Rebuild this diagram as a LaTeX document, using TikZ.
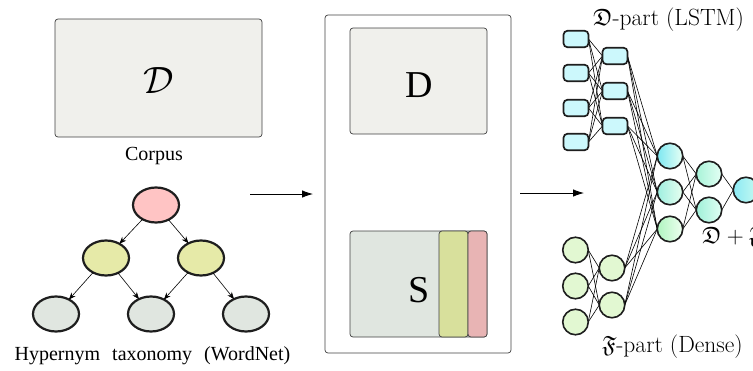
\RequirePackage{fix-cm}
\documentclass[tikz,border=0pt]{standalone}
\usepackage{fontspec}
\usepackage{amssymb}
\newfontfamily\timesfont{Liberation Serif}
\usetikzlibrary{arrows.meta,backgrounds,shapes.geometric}

% palette
\definecolor{boxgray}{HTML}{F0F0EC}
\definecolor{sgray}{HTML}{E0E6E0}
\definecolor{syellow}{HTML}{D8E09C}
\definecolor{spink}{HTML}{E8B4B4}
\definecolor{rootpink}{HTML}{FFC4C4}
\definecolor{midyellow}{HTML}{E6EAA8}
\definecolor{leafgray}{HTML}{E0E6E0}
\definecolor{cellcyan}{HTML}{CCF8FC}
\definecolor{leafgreen}{HTML}{E2F8D2}
\definecolor{edgeblack}{HTML}{1E1E1E}
% neuron gradients (left / right)
\definecolor{mAl}{HTML}{7DE8F2}\definecolor{mAr}{HTML}{E8FFF4}
\definecolor{mBl}{HTML}{9EEFE0}\definecolor{mBr}{HTML}{E8FFF0}
\definecolor{mCl}{HTML}{B0F5C0}\definecolor{mCr}{HTML}{EEFFF0}
\definecolor{nAl}{HTML}{A8F3D8}\definecolor{nAr}{HTML}{E4FFF4}
\definecolor{nBl}{HTML}{A0F0D8}\definecolor{nBr}{HTML}{E0FFF4}
\definecolor{oAl}{HTML}{8CEAF4}\definecolor{oAr}{HTML}{C8FAF0}

\tikzset{
  every node/.style={inner sep=0pt, outer sep=0pt},
  panel/.style={draw=black!75, line width=0.7pt, rounded corners=3pt},
  tnode/.style={ellipse, draw=edgeblack, line width=2.2pt,
                minimum width=46pt, minimum height=35pt},
  tedge/.style={-{Stealth[length=7pt,width=5.5pt]}, line width=0.6pt},
  lstmcell/.style={rectangle, rounded corners=4pt, draw=edgeblack,
                   line width=1.7pt, fill=cellcyan,
                   minimum width=25pt, minimum height=16.5pt},
  neuron/.style={circle, draw=edgeblack, line width=1.6pt, minimum size=25.5pt},
  link/.style={line width=0.6pt},
  flow/.style={-{Latex[length=11pt,width=7.5pt]}, line width=0.8pt},
  serifbig/.style={font=\timesfont\fontsize{38}{40}\selectfont},
  seriflabel/.style={font=\timesfont\fontsize{20}{24}\selectfont},
  mathlabel/.style={font=\fontsize{23.5}{26}\selectfont},
}

\begin{document}
\begin{tikzpicture}[x=1pt, y=-1pt]
\useasboundingbox (0,0) rectangle (753,370);

% ---- corpus ----
\node[panel, fill=boxgray, minimum width=207pt, minimum height=118pt] (corpus) at (158.5,78) {};
\node[font=\fontsize{38}{40}\selectfont] (calD) at (159,81) {$\mathcal{D}$};
\node[seriflabel, anchor=base] (corpuslbl) at (154,160) {Corpus};

% ---- hypernym taxonomy ----
\node[tnode, fill=rootpink]  (root) at (156,205) {};
\node[tnode, fill=midyellow] (ml)   at (106,258) {};
\node[tnode, fill=midyellow] (mr)   at (201,258) {};
\node[tnode, fill=leafgray]  (l1)   at (56,314)  {};
\node[tnode, fill=leafgray]  (l2)   at (151,314) {};
\node[tnode, fill=leafgray]  (l3)   at (246,314) {};
\draw[tedge] (root) -- (ml);
\draw[tedge] (root) -- (mr);
\draw[tedge] (ml) -- (l1);
\draw[tedge] (ml) -- (l2);
\draw[tedge] (mr) -- (l2);
\draw[tedge] (mr) -- (l3);
\node[seriflabel, anchor=base] (taxlbl) at (152.5,360)
  {Hypernym\hspace{12pt}taxonomy\hspace{12pt}(WordNet)};

% ---- arrows between stages ----
\coordinate (a1s) at (250,194);
\coordinate (a1e) at (313,194);
\coordinate (a2s) at (520,193);
\coordinate (a2e) at (584,193);
\draw[flow] (a1s) -- (a1e);
\draw[flow] (a2s) -- (a2e);

% ---- encoded inputs ----
\node[panel, minimum width=186pt, minimum height=338pt] (stage) at (418,184) {};
\node[panel, fill=boxgray, minimum width=137pt, minimum height=106pt] (dbox) at (418.5,81) {};
\node[serifbig, anchor=base] (dlbl) at (419,97) {D};
\node[panel, fill=sgray, minimum width=137pt, minimum height=106pt] (sbox) at (418.5,284) {};
\node[panel, fill=syellow, minimum width=29pt, minimum height=106pt] (sy) at (453.5,284) {};
\node[panel, fill=spink, minimum width=19pt, minimum height=106pt] (sp) at (477.5,284) {};
\node[serifbig, anchor=base] (slbl) at (419,302) {S};

% ---- network ----
\foreach \i/\y in {1/39,2/73,3/108,4/142}
  \node[lstmcell] (c\i) at (576,\y) {};
\foreach \i/\y in {1/56,2/91,3/126}
  \node[lstmcell] (d\i) at (615,\y) {};
\foreach \i/\y in {1/250,2/286,3/322}
  \node[neuron, fill=leafgreen] (g\i) at (575.5,\y) {};
\foreach \i/\y in {1/268,2/305}
  \node[neuron, fill=leafgreen] (h\i) at (612,\y) {};
\node[neuron, left color=mAl, right color=mAr] (m1) at (670,156) {};
\node[neuron, left color=mBl, right color=mBr] (m2) at (670,192) {};
\node[neuron, left color=mCl, right color=mCr] (m3) at (670,229) {};
\node[neuron, left color=nAl, right color=nAr] (n1) at (709,174) {};
\node[neuron, left color=nBl, right color=nBr] (n2) at (709,210) {};
\node[neuron, left color=oAl, right color=oAr] (o1) at (746,190) {};

\begin{scope}[on background layer]
  \foreach \a in {1,...,4} \foreach \b in {1,...,3}
    \draw[link] (c\a.east) -- (d\b.west);
  \foreach \a in {1,...,3} \foreach \b in {1,...,3}
    \draw[link] (d\a.east) -- (m\b.west);
  \foreach \a in {1,...,3} \foreach \b in {1,2}
    \draw[link] (g\a.east) -- (h\b.west);
  \foreach \a in {1,2} \foreach \b in {1,...,3}
    \draw[link] (h\a.east) -- (m\b.west);
  \foreach \a in {1,...,3} \foreach \b in {1,2}
    \draw[link] (m\a.east) -- (n\b.west);
  \foreach \a in {1,2}
    \draw[link] (n\a.east) -- (o1.west);
\end{scope}

\node[mathlabel, anchor=base west] (lstmlbl) at (593,25) {$\mathfrak{D}$-part (LSTM)};
\node[mathlabel, anchor=base west] (denselbl) at (602,352) {$\mathfrak{F}$-part (Dense)};
\node[mathlabel, anchor=base west] (joinlbl) at (702,243) {$\mathfrak{D}+\mathfrak{F}$};
\end{tikzpicture}
\end{document}
